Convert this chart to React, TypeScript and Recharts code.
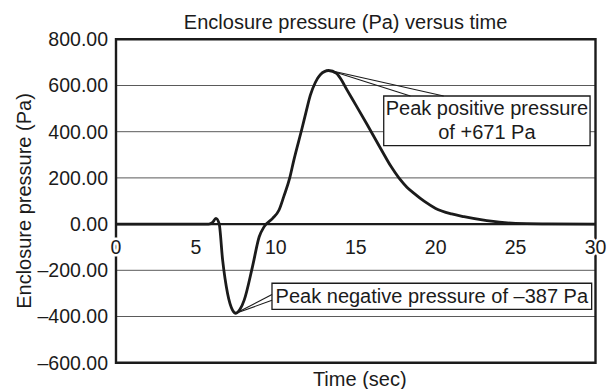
import React from "react";
import {
  LineChart,
  Line,
  XAxis,
  YAxis,
  CartesianGrid,
  ReferenceLine,
  ReferenceArea,
  ReferenceDot,
} from "recharts";

// time (s) and enclosure pressure (Pa)
const times = [
  0, 5.8, 6.05, 6.25, 6.45, 6.67, 6.98, 7.29, 7.5, 7.75, 8.02, 8.54, 8.96,
  9.27, 9.8, 10.2, 10.5, 10.87, 11.12, 11.64, 11.9, 12.16, 12.47, 12.78, 13.3,
  13.8, 14.0, 14.46, 15.0, 15.72, 16.6, 17.2, 17.7, 18.2, 18.65, 19.3, 20.0,
  21.0, 21.77, 23.2, 25, 27, 30,
];
const pressure = [
  0, 0, 8, 25, 3, -155, -300, -372, -386, -370, -329, -184, -55, -11, 25, 61,
  120, 200, 275, 415, 488, 558, 613, 647, 665, 652, 635, 580, 516, 430, 322,
  250, 200, 160, 133, 98, 68, 44, 32, 15, 3, 1, 0,
];

const xTicks = [0, 5, 10, 15, 20, 25, 30];
const yTicks = [-600, -400, -200, 0, 200, 400, 600, 800];

const title = "Enclosure pressure (Pa) versus time";
const xLabel = "Time (sec)";
const yLabel = "Enclosure pressure (Pa)";

const posNote = ["Peak positive pressure", "of +671 Pa"];
const negNote = ["Peak negative pressure of \u2013387 Pa"];

// callout boxes and their pointer wedges, in data units
const posBox = { x1: 16.75, x2: 29.66, y1: 340, y2: 554.5 };
const negBox = { x1: 9.76, x2: 29.76, y1: -369, y2: -256 };
const posPeak = { x: 13.4, y: 665 };
const negPeak = { x: 7.5, y: -386 };
const posWedge = [18.42, 20.5];
const negWedge = [-305, -330];

const data = times.map((t, i) => ({ t, p: pressure[i] }));

const FONT = "'Liberation Sans', Arial, Helvetica, sans-serif";
const INK = "#1b1b1b";

const fmtY = (v: number) =>
  v < 0 ? "\u2013" + Math.abs(v).toFixed(2) : v.toFixed(2);

const boxLabel = (lines: string[]) => (props: any) => {
  const vb = props.viewBox || {};
  const cx = vb.x + vb.width / 2;
  const cy = vb.y + vb.height / 2;
  const lh = 24;
  return (
    <g>
      {lines.map((s, i) => (
        <text
          key={i}
          x={cx}
          y={cy + (i - (lines.length - 1) / 2) * lh + 6.5}
          textAnchor="middle"
          fontSize={20}
          fill={INK}
          fontFamily={FONT}
        >
          {s}
        </text>
      ))}
    </g>
  );
};

export default function App() {
  return (
    <div
      style={{
        position: "absolute",
        left: 0,
        top: 0,
        width: 608,
        height: 389,
        fontFamily: FONT,
        background: "#fff",
      }}
    >
      <LineChart
        width={608}
        height={389}
        data={data}
        margin={{ top: 39.3, right: 12.5, bottom: 0, left: 16 }}
        style={{ fontFamily: FONT }}
      >
        <text
          x={345.6}
          y={29.3}
          textAnchor="middle"
          fontSize={20}
          fill={INK}
          fontFamily={FONT}
        >
          {title}
        </text>
        <CartesianGrid stroke="#5a5a5a" strokeWidth={1} />
        <XAxis
          dataKey="t"
          type="number"
          domain={[0, 30]}
          ticks={xTicks}
          tick={false}
          tickLine={false}
          axisLine={false}
          height={26.3}
          label={{
            value: xLabel,
            position: "insideBottom",
            offset: 3,
            dx: 4,
            fontSize: 20,
            fill: INK,
          }}
        />
        <YAxis
          type="number"
          domain={[-600, 800]}
          ticks={yTicks}
          tickFormatter={fmtY}
          width={100}
          tickLine={false}
          axisLine={false}
          tick={{ fontSize: 19.5, fill: INK, fontFamily: FONT }}
          label={{
            value: yLabel,
            angle: -90,
            position: "insideLeft",
            offset: 8,
            fontSize: 20,
            fill: INK,
            style: { textAnchor: "middle" },
          }}
        />
        <ReferenceLine y={0} stroke={INK} strokeWidth={2.4} />
        {xTicks.map((t) => (
          <ReferenceDot
            key={t}
            x={t}
            y={0}
            r={0}
            fill="none"
            stroke="none"
            label={{
              value: t,
              position: "bottom",
              offset: 16,
              fontSize: 19.5,
              fill: INK,
              stroke: "#fff",
              strokeWidth: 5,
              style: { paintOrder: "stroke" },
            }}
          />
        ))}
        <Line
          type="monotone"
          dataKey="p"
          stroke={INK}
          strokeWidth={2.8}
          dot={false}
          isAnimationActive={false}
        />
        {posWedge.map((x, i) => (
          <ReferenceLine
            key={"pw" + i}
            segment={[posPeak, { x, y: posBox.y2 }]}
            stroke={INK}
            strokeWidth={1.1}
          />
        ))}
        {negWedge.map((y, i) => (
          <ReferenceLine
            key={"nw" + i}
            segment={[negPeak, { x: negBox.x1, y }]}
            stroke={INK}
            strokeWidth={1.1}
          />
        ))}
        <ReferenceArea
          {...posBox}
          fill="#fff"
          fillOpacity={1}
          stroke={INK}
          strokeWidth={1.3}
          label={boxLabel(posNote)}
        />
        <ReferenceArea
          {...negBox}
          fill="#fff"
          fillOpacity={1}
          stroke={INK}
          strokeWidth={1.3}
          label={boxLabel(negNote)}
        />
        <ReferenceArea
          x1={0}
          x2={30}
          y1={-600}
          y2={800}
          fill="none"
          stroke={INK}
          strokeWidth={2.4}
        />
      </LineChart>
    </div>
  );
}
